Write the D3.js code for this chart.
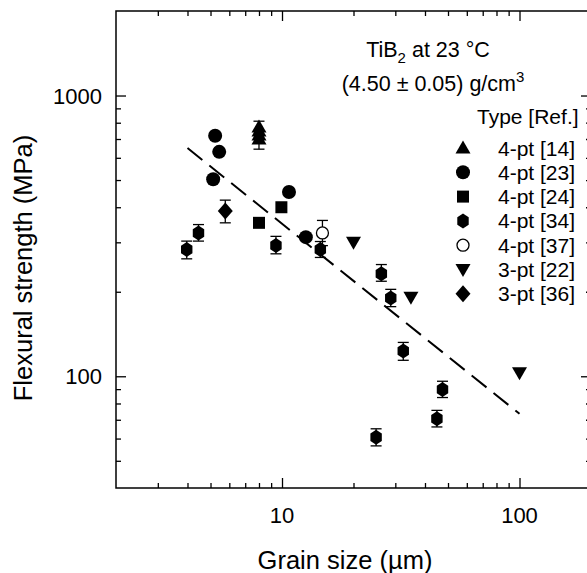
<!DOCTYPE html>
<html>
<head>
<meta charset="utf-8">
<script src="https://cdn.jsdelivr.net/npm/d3@7"></script>
<style>
  body { margin: 0; background: #fff; }
  text { font-family: "Liberation Sans", Arial, sans-serif; fill: #000; }
</style>
</head>
<body>
<svg id="chart" width="587" height="573"></svg>
<script>
// grain size (um), strength (MPa), error bar low/high
const ref14 = [[8, 772], [8, 747], [8, 723], [8, 700]]
const ref14Err = [[8, 730, 644, 810]]
const ref23 = [[5.23, 719], [5.44, 630], [5.13, 503], [10.7, 453], [12.6, 313]]
const ref24 = [[8, 352], [9.94, 400]]
const ref34 = [
  [3.97, 283, 262, 303],
  [4.45, 324, 303, 347],
  [9.43, 292, 273, 315],
  [14.5, 283, 265, 302],
  [26.2, 232, 218, 250],
  [28.7, 190, 177, 204],
  [32.4, 123, 114, 132],
  [47.4, 89.7, 84, 96],
  [44.9, 70.6, 66, 75.6],
  [24.9, 60.6, 56.5, 65]
]
const ref37 = [[14.8, 324, 292, 359]]
const ref22 = [[20, 300], [34.9, 191], [100, 103]]
const ref36 = [[5.77, 388, 352, 424]]
const fitLine = [[4, 650], [100, 73.5]]

const legendLabels = ["4-pt [14]", "4-pt [23]", "4-pt [24]", "4-pt [34]", "4-pt [37]", "3-pt [22]", "3-pt [36]"]
const legendShapes = ["tri", "circle", "square", "hex", "open", "tridown", "diamond"]

const xMajor = [10, 100]
const xMinor = [3, 4, 5, 6, 7, 8, 9, 20, 30, 40, 50, 60, 70, 80, 90]
const yMajor = [100, 1000]
const yMinor = [50, 60, 70, 80, 90, 200, 300, 400, 500, 600, 700, 800, 900]

const svg = d3.select("#chart")
const box = { left: 116, top: 11, right: 591, bottom: 488 }

const x = d3.scaleLog().domain([2, 200]).range([box.left, box.right])
const y = d3.scaleLog().domain([40, 2000]).range([box.bottom, box.top])

// marker paths, centred on 0,0
function shapePath(kind) {
  if (kind == "tri") return "M0,-7.5L7.5,5.5L-7.5,5.5Z"
  if (kind == "tridown") return "M0,7.5L7.5,-5.5L-7.5,-5.5Z"
  if (kind == "square") return "M-6,-6H6V6H-6Z"
  if (kind == "diamond") return "M0,-8.5L7.5,0L0,8.5L-7.5,0Z"
  if (kind == "hex") {
    let pts = d3.range(6).map(i => {
      let a = Math.PI / 2 + i * Math.PI / 3
      return [6.6 * Math.cos(a), 7.5 * Math.sin(a)]
    })
    return "M" + pts.join("L") + "Z"
  }
  return null
}

function drawMarker(g, kind, px, py) {
  if (kind == "circle" || kind == "open") {
    g.append("circle")
      .attr("cx", px).attr("cy", py).attr("r", kind == "open" ? 6 : 7)
      .attr("fill", kind == "open" ? "#fff" : "#000")
      .attr("stroke", "#000").attr("stroke-width", kind == "open" ? 1.3 : 0)
  } else {
    g.append("path")
      .attr("d", shapePath(kind))
      .attr("transform", "translate(" + px + "," + py + ")")
      .attr("fill", "#000")
  }
}

// frame
svg.append("rect")
  .attr("x", box.left).attr("y", box.top)
  .attr("width", box.right - box.left).attr("height", box.bottom - box.top)
  .attr("fill", "none").attr("stroke", "#000").attr("stroke-width", 1.5)

/* inward ticks on all four sides */
function ticks(axisFn, scale, values, size, tr) {
  let g = svg.append("g")
    .attr("transform", tr)
    .call(axisFn(scale).tickValues(values).tickSize(size).tickFormat(""))
  g.select(".domain").remove()
  g.selectAll("line").attr("stroke-width", 1.3)
  return g
}
ticks(d3.axisBottom, x, xMajor, -10, "translate(0," + box.bottom + ")")
ticks(d3.axisBottom, x, xMinor, -5, "translate(0," + box.bottom + ")")
ticks(d3.axisTop, x, xMajor, -10, "translate(0," + box.top + ")")
ticks(d3.axisTop, x, xMinor, -5, "translate(0," + box.top + ")")
ticks(d3.axisLeft, y, yMajor, -10, "translate(" + box.left + ",0)")
ticks(d3.axisLeft, y, yMinor, -5, "translate(" + box.left + ",0)")
ticks(d3.axisRight, y, yMajor, -10, "translate(" + box.right + ",0)")
ticks(d3.axisRight, y, yMinor, -5, "translate(" + box.right + ",0)")

// tick labels
svg.selectAll(".xlab").data(xMajor).enter().append("text")
  .attr("x", d => x(d)).attr("y", box.bottom + 35)
  .attr("text-anchor", "middle").style("font-size", "22px")
  .text(d => d)
svg.selectAll(".ylab").data(yMajor).enter().append("text")
  .attr("x", box.left - 14).attr("y", d => y(d) + 8)
  .attr("text-anchor", "end").style("font-size", "22px")
  .text(d => d)

// axis titles
svg.append("text")
  .attr("x", 345).attr("y", 569)
  .attr("text-anchor", "middle").style("font-size", "25.5px")
  .text("Grain size (µm)")
svg.append("text")
  .attr("transform", "translate(32,268) rotate(-90)")
  .attr("text-anchor", "middle").style("font-size", "25.5px")
  .text("Flexural strength (MPa)")

// fit line
svg.append("path")
  .attr("d", d3.line().x(d => x(d[0])).y(d => y(d[1]))(fitLine))
  .attr("fill", "none").attr("stroke", "#000")
  .attr("stroke-width", 2).attr("stroke-dasharray", "19,9")

// error bars
const errs = [].concat(ref14Err, ref34, ref37, ref36)
const eg = svg.append("g")
errs.forEach(d => {
  let px = x(d[0])
  eg.append("line").attr("x1", px).attr("x2", px)
    .attr("y1", y(d[2])).attr("y2", y(d[3]))
  ;[d[2], d[3]].forEach(v => {
    eg.append("line").attr("x1", px - 5.5).attr("x2", px + 5.5)
      .attr("y1", y(v)).attr("y2", y(v))
  })
})
eg.selectAll("line").attr("stroke", "#000").attr("stroke-width", 1.3)

// markers
const mg = svg.append("g")
const groups = [[ref14, "tri"], [ref23, "circle"], [ref24, "square"], [ref34, "hex"],
  [ref37, "open"], [ref22, "tridown"], [ref36, "diamond"]]
groups.forEach(([data, kind]) => {
  data.forEach(d => drawMarker(mg, kind, x(d[0]), y(d[1])))
})

// annotation
let t1 = svg.append("text").attr("x", 428).attr("y", 57)
  .attr("text-anchor", "middle").style("font-size", "21.5px")
t1.append("tspan").text("TiB")
t1.append("tspan").attr("dy", 6).style("font-size", "15px").text("2")
t1.append("tspan").attr("dy", -6).text(" at 23 °C")
let t2 = svg.append("text").attr("x", 433).attr("y", 91)
  .attr("text-anchor", "middle").style("font-size", "21.5px")
t2.append("tspan").text("(4.50 ± 0.05) g/cm")
t2.append("tspan").attr("dy", -9).style("font-size", "15px").text("3")

// legend
svg.append("text").attr("x", 477).attr("y", 124)
  .style("font-size", "21px").text("Type [Ref.]")
const lg = svg.append("g")
legendLabels.forEach((lab, i) => {
  let ly = 148 + i * 24.3
  drawMarker(lg, legendShapes[i], 463, ly)
  lg.append("text").attr("x", 498).attr("y", ly + 7.5)
    .style("font-size", "21px").text(lab)
})
</script>
</body>
</html>
